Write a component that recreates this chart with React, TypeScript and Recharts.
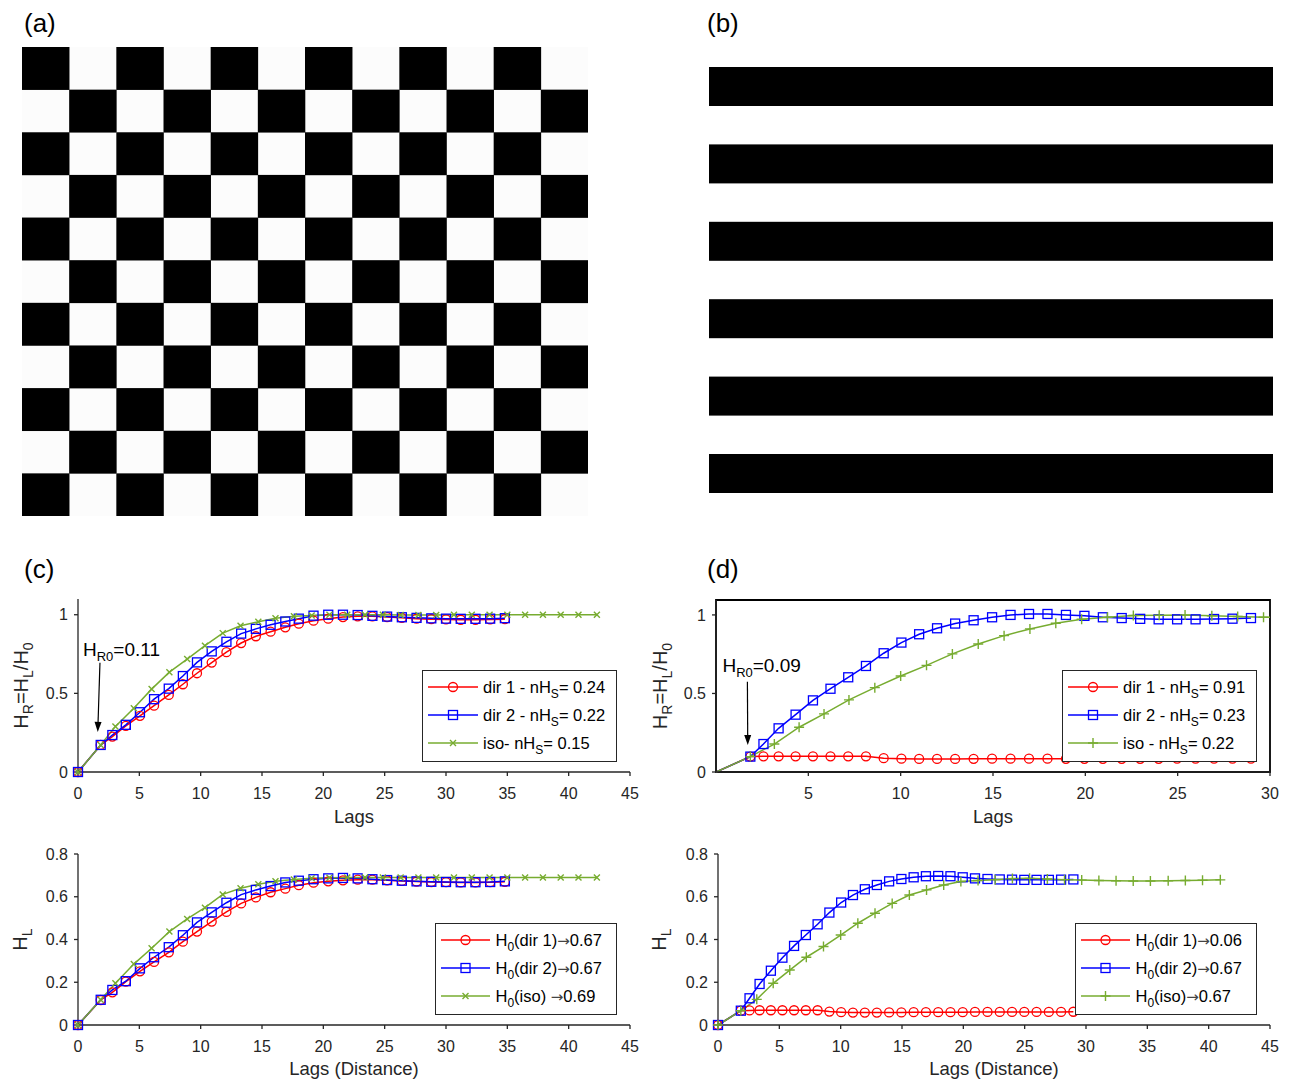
import React from 'react';
import { LineChart, Line, XAxis, YAxis, Legend, ReferenceLine, ReferenceArea } from 'recharts';

const FONT = '"Liberation Sans", Arial, Helvetica, sans-serif';
const INK = '#262626';
const RED = '#ff0000';
const BLUE = '#0000ff';
const GREEN = '#77ac30';

// (c) checkerboard: lags and variogram values
const lagsC = [0, 1.85, 2.8, 3.9, 5.05, 6.2, 7.4, 8.55, 9.7, 10.9, 12.1, 13.3, 14.5, 15.7, 16.9, 18.0, 19.2, 20.4, 21.6, 22.8, 24.0, 25.2, 26.4, 27.6, 28.8, 30.0, 31.2, 32.4, 33.6, 34.8];
const lagsCIso = [0, 1.85, 3.05, 4.55, 6.0, 7.45, 8.9, 10.35, 11.8, 13.25, 14.7, 16.1, 17.6, 19.05, 20.5, 21.95, 23.4, 24.85, 26.3, 27.75, 29.2, 30.65, 32.1, 33.55, 35.0, 36.45, 37.9, 39.35, 40.8, 42.3];
const hrC1 = [0, 0.172, 0.225, 0.293, 0.357, 0.422, 0.49, 0.558, 0.628, 0.696, 0.762, 0.82, 0.863, 0.892, 0.92, 0.943, 0.962, 0.975, 0.985, 0.99, 0.99, 0.985, 0.98, 0.975, 0.972, 0.97, 0.968, 0.968, 0.97, 0.972];
const hrC2 = [0, 0.172, 0.235, 0.3, 0.38, 0.463, 0.53, 0.61, 0.697, 0.767, 0.828, 0.88, 0.91, 0.936, 0.957, 0.975, 0.994, 1.0, 1.0, 0.998, 0.993, 0.988, 0.984, 0.98, 0.977, 0.975, 0.974, 0.974, 0.975, 0.978];
const hrCIso = [0, 0.172, 0.29, 0.405, 0.527, 0.635, 0.718, 0.803, 0.883, 0.93, 0.955, 0.977, 0.99, 0.995, 1.0, 1.0, 1.0, 1.0, 0.999, 0.999, 0.999, 1.0, 1.0, 1.0, 1.0, 1.0, 1.0, 1.0, 1.0, 1.0];
const hlC1 = [0, 0.117, 0.153, 0.203, 0.251, 0.295, 0.34, 0.39, 0.437, 0.484, 0.529, 0.569, 0.597, 0.621, 0.638, 0.654, 0.666, 0.672, 0.677, 0.68, 0.68, 0.677, 0.674, 0.671, 0.669, 0.668, 0.667, 0.667, 0.668, 0.67];
const hlC2 = [0, 0.118, 0.164, 0.205, 0.265, 0.317, 0.364, 0.42, 0.48, 0.527, 0.572, 0.61, 0.632, 0.65, 0.667, 0.675, 0.682, 0.686, 0.688, 0.686, 0.682, 0.678, 0.675, 0.672, 0.67, 0.669, 0.668, 0.668, 0.669, 0.672];
const hlCIso = [0, 0.118, 0.195, 0.285, 0.359, 0.437, 0.496, 0.549, 0.611, 0.64, 0.658, 0.672, 0.681, 0.686, 0.689, 0.69, 0.69, 0.69, 0.69, 0.69, 0.69, 0.69, 0.69, 0.69, 0.69, 0.69, 0.69, 0.69, 0.69, 0.69];

// (d) stripes: lags and variogram values
const lagsD = [0, 1.86, 2.57, 3.39, 4.31, 5.25, 6.2, 7.16, 8.12, 9.08, 10.04, 11.0, 11.97, 12.95, 13.95, 14.95, 15.95, 16.95, 17.95, 18.95, 19.95, 20.95, 21.97, 22.97, 23.97, 24.97, 25.97, 26.97, 27.97, 28.97];
const lagsDIso = [0, 1.86, 3.16, 4.5, 5.85, 7.2, 8.6, 10.0, 11.4, 12.8, 14.2, 15.6, 17.0, 18.4, 19.8, 21.2, 22.6, 24.0, 25.4, 26.85, 28.25, 29.65, 31.05, 32.45, 33.85, 35.25, 36.7, 38.1, 39.5, 40.95];
const hrD1 = [0, 0.098, 0.1, 0.1, 0.1, 0.1, 0.1, 0.1, 0.1, 0.088, 0.085, 0.083, 0.083, 0.083, 0.084, 0.085, 0.085, 0.085, 0.085, 0.084, 0.084, 0.084, 0.084, 0.084, 0.084, 0.085, 0.085, 0.085, 0.085, 0.085];
const hrD2 = [0, 0.098, 0.178, 0.278, 0.365, 0.456, 0.53, 0.603, 0.675, 0.756, 0.824, 0.877, 0.915, 0.945, 0.966, 0.985, 1.0, 1.006, 1.006, 1.0, 0.994, 0.985, 0.98, 0.975, 0.972, 0.972, 0.972, 0.974, 0.976, 0.98];
const hrDIso = [0, 0.098, 0.178, 0.285, 0.37, 0.459, 0.537, 0.611, 0.679, 0.752, 0.815, 0.868, 0.911, 0.947, 0.972, 0.985, 0.996, 0.998, 1.0, 0.994, 0.99, 0.985, 0.985, 0.983, 0.982, 0.98, 0.98, 0.982, 0.984, 0.986];
const hlD1 = [0, 0.067, 0.068, 0.069, 0.069, 0.069, 0.069, 0.069, 0.069, 0.063, 0.06, 0.058, 0.058, 0.058, 0.059, 0.059, 0.06, 0.06, 0.06, 0.06, 0.06, 0.061, 0.061, 0.061, 0.061, 0.061, 0.061, 0.061, 0.061, 0.062];
const hlD2 = [0, 0.067, 0.125, 0.192, 0.254, 0.315, 0.37, 0.421, 0.471, 0.526, 0.573, 0.608, 0.635, 0.655, 0.672, 0.683, 0.691, 0.696, 0.697, 0.696, 0.691, 0.686, 0.683, 0.681, 0.68, 0.679, 0.679, 0.679, 0.68, 0.681];
const hlDIso = [0, 0.067, 0.12, 0.195, 0.257, 0.317, 0.367, 0.421, 0.476, 0.523, 0.569, 0.608, 0.632, 0.655, 0.671, 0.676, 0.68, 0.685, 0.686, 0.683, 0.68, 0.678, 0.676, 0.675, 0.674, 0.674, 0.675, 0.676, 0.677, 0.679];

const ticks45 = [0, 5, 10, 15, 20, 25, 30, 35, 40, 45];
const ticks30 = [5, 10, 15, 20, 25, 30];
const ticksHR = [0, 0.5, 1];
const ticksHL = [0, 0.2, 0.4, 0.6, 0.8];

type Part = [string, boolean];
type Mk = 'circle' | 'square' | 'x' | 'plus';

const drawMarker = (m: Mk, color: string, cx: number, cy: number, key?: string) => {
  if (cx == null || cy == null) return <g key={key} />;
  if (m === 'circle') return <circle key={key} cx={cx} cy={cy} r={4.5} fill="none" stroke={color} strokeWidth={1.3} />;
  if (m === 'square') return <rect key={key} x={cx - 4.5} y={cy - 4.5} width={9} height={9} fill="none" stroke={color} strokeWidth={1.3} />;
  if (m === 'x') return <path key={key} d={`M${cx - 3},${cy - 3}L${cx + 3},${cy + 3}M${cx - 3},${cy + 3}L${cx + 3},${cy - 3}`} stroke={color} strokeWidth={1.4} />;
  return <path key={key} d={`M${cx - 5},${cy}L${cx + 5},${cy}M${cx},${cy - 5}L${cx},${cy + 5}`} stroke={color} strokeWidth={1.4} />;
};

const svgParts = (parts: Part[], small: number, shift: number) => {
  let cur = 0;
  return parts.map(([t, sub], i) => {
    const target = sub ? shift : 0;
    const dy = target - cur;
    cur = target;
    return <tspan key={i} dy={dy} fontSize={sub ? small : undefined}>{t}</tspan>;
  });
};

// the arrow glyph is drawn in DejaVu so it sits at mid height like the original
const withArrow = (t: string) =>
  t.split('\u2192').map((chunk, i) => (
    <React.Fragment key={i}>
      {i > 0 && <span style={{ fontFamily: '"DejaVu Sans", sans-serif', fontSize: 15, color: '#444' }}>{'\u2192'}</span>}
      {chunk}
    </React.Fragment>
  ));

const htmlParts = (parts: Part[]) =>
  parts.map(([t, sub], i) =>
    sub ? (
      <span key={i} style={{ fontSize: 12, position: 'relative', top: 5 }}>{t}</span>
    ) : (
      <span key={i} style={{ whiteSpace: 'pre' }}>{withArrow(t)}</span>
    )
  );

interface Series { lags: number[]; vals: number[]; color: string; mk: Mk; label: Part[] }

interface PanelProps {
  box: [number, number, number, number];
  plot: [number, number, number, number];
  xMax: number;
  xTicks: number[];
  yMax: number;
  yTicks: number[];
  series: Series[];
  legendBox: [number, number, number, number];
  legendLine: [number, number, number];
  yLabel: Part[];
  yLabelX: number;
  xLabel: string;
  xLabelDy: number;
  framed?: boolean;
  arrow?: { p1: [number, number]; p2: [number, number]; text: Part[]; dx: number; dy: number };
}

const LegendBox = ({ series, w, h, line }: { series: Series[]; w: number; h: number; line: [number, number, number] }) => (
  <div style={{ width: w, height: h, border: `1.3px solid ${INK}`, background: '#fff', boxSizing: 'border-box', position: 'relative', fontFamily: FONT }}>
    {series.map((s, i) => (
      <div key={i} style={{ position: 'absolute', left: 0, top: 2 + i * 28, height: 28, display: 'flex', alignItems: 'center', whiteSpace: 'nowrap' }}>
        <svg width={line[1]} height={14} style={{ marginLeft: line[0], overflow: 'visible' }}>
          <line x1={0} y1={7} x2={line[1]} y2={7} stroke={s.color} strokeWidth={1.5} />
          {drawMarker(s.mk, s.color, line[1] / 2, 7)}
        </svg>
        <span style={{ marginLeft: line[2], fontSize: 16.5, color: '#000', lineHeight: 1 }}>{htmlParts(s.label)}</span>
      </div>
    ))}
  </div>
);

const arrowShape = (text: Part[], dx: number, dy: number) => (p: any) => {
  const { x1, y1, x2, y2 } = p;
  const ang = Math.atan2(y2 - y1, x2 - x1);
  const L = 10;
  const W = 3.5;
  const bx = x2 - L * Math.cos(ang);
  const by = y2 - L * Math.sin(ang);
  const px = -Math.sin(ang) * W;
  const py = Math.cos(ang) * W;
  return (
    <g>
      <line x1={x1} y1={y1} x2={bx} y2={by} stroke="#000" strokeWidth={1.2} />
      <polygon points={`${x2},${y2} ${bx + px},${by + py} ${bx - px},${by - py}`} fill="#000" />
      <text x={x1 + dx} y={y1 + dy} fontSize={19} fontFamily={FONT} fill="#000">
        {svgParts(text, 13, 5)}
      </text>
    </g>
  );
};

const Panel = (p: PanelProps) => {
  const [left, top, width, height] = p.box;
  const [pl, pt, pr, pb] = p.plot;
  const [lx, ly, lw, lh] = p.legendBox;
  const cx = (pl + pr) / 2 - left;
  const cy = (pt + pb) / 2 - top;
  const tick = { fill: INK, fontSize: 16, fontFamily: FONT };
  return (
    <div style={{ position: 'absolute', left, top, width, height }}>
      <LineChart width={width} height={height} margin={{ top: pt - top, right: left + width - pr, bottom: 0, left: 0 }}>
        {p.framed && (
          <ReferenceArea x1={0} x2={p.xMax} y1={0} y2={p.yMax} fill="none" stroke="#000" strokeWidth={1.8} strokeOpacity={1} fillOpacity={0} />
        )}
        <XAxis
          type="number"
          dataKey="lag"
          domain={[0, p.xMax]}
          ticks={p.xTicks}
          interval={0}
          allowDataOverflow={!!p.framed}
          height={top + height - pb}
          tickSize={4}
          tickMargin={12}
          tick={tick}
          axisLine={{ stroke: INK, strokeWidth: 1.3 }}
          tickLine={{ stroke: INK, strokeWidth: 1.3 }}
          label={() => (
            <text x={cx} y={pb - top + p.xLabelDy} textAnchor="middle" fontSize={18.5} fontFamily={FONT} fill={INK}>
              {p.xLabel}
            </text>
          )}
        />
        <YAxis
          type="number"
          domain={[0, p.yMax]}
          ticks={p.yTicks}
          interval={0}
          width={pl - left}
          tickSize={4}
          tickMargin={6}
          tick={tick}
          axisLine={{ stroke: INK, strokeWidth: 1.3 }}
          tickLine={{ stroke: INK, strokeWidth: 1.3 }}
          label={() => (
            <text
              x={p.yLabelX - left}
              y={cy}
              transform={`rotate(-90 ${p.yLabelX - left} ${cy})`}
              textAnchor="middle"
              fontSize={20}
              fontFamily={FONT}
              fill={INK}
            >
              {svgParts(p.yLabel, 14, 5)}
            </text>
          )}
        />
        {p.series.map((s, si) => (
          <Line
            key={si}
            data={s.lags.map((lag, i) => ({ lag, v: s.vals[i] }))}
            dataKey="v"
            stroke={s.color}
            strokeWidth={1.5}
            isAnimationActive={false}
            activeDot={false}
            dot={(d: any) => (p.framed && d.index === 0 ? <g key={`d-${d.index}`} /> : drawMarker(s.mk, s.color, d.cx, d.cy, `d-${d.index}`))}
          />
        ))}
        {p.arrow && (
          <ReferenceLine
            segment={[{ x: p.arrow.p1[0], y: p.arrow.p1[1] }, { x: p.arrow.p2[0], y: p.arrow.p2[1] }]}
            shape={arrowShape(p.arrow.text, p.arrow.dx, p.arrow.dy)}
          />
        )}
        <Legend
          layout="vertical"
          align="center"
          verticalAlign="middle"
          wrapperStyle={{ position: 'absolute', left: lx - left, top: ly - top, width: lw, height: lh }}
          content={() => <LegendBox series={p.series} w={lw} h={lh} line={p.legendLine} />}
        />
      </LineChart>
    </div>
  );
};

const CHECK_ROWS = 11;
const CHECK_COLS = 12;
const STRIPES = 6;

const Checkerboard = () => {
  const w = 566;
  const h = 469;
  const cw = w / CHECK_COLS;
  const ch = h / CHECK_ROWS;
  const cells = [];
  for (let r = 0; r < CHECK_ROWS; r++)
    for (let c = 0; c < CHECK_COLS; c++)
      if ((r + c) % 2 === 0) cells.push(<rect key={`${r}-${c}`} x={c * cw} y={r * ch} width={cw + 0.3} height={ch + 0.3} fill="#000" />);
  return (
    <svg style={{ position: 'absolute', left: 22, top: 47 }} width={w} height={h}>
      <rect width={w} height={h} fill="#fcfcfc" />
      {cells}
    </svg>
  );
};

const Stripes = () => {
  const rows = [];
  for (let i = 0; i < STRIPES; i++) rows.push(<rect key={i} x={0} y={20 + i * 77.4} width={564} height={39} fill="#000" />);
  return (
    <svg style={{ position: 'absolute', left: 709, top: 47 }} width={564} height={470}>
      {rows}
    </svg>
  );
};

const PanelTag = ({ x, y, t }: { x: number; y: number; t: string }) => (
  <div style={{ position: 'absolute', left: x, top: y, fontSize: 26, lineHeight: '30px', fontFamily: FONT, color: '#000' }}>{t}</div>
);

const hrLabel: Part[] = [['H', false], ['R', true], ['=H', false], ['L', true], ['/H', false], ['0', true]];
const hlLabel: Part[] = [['H', false], ['L', true]];

export default function App() {
  return (
    <div style={{ position: 'absolute', left: 0, top: 0, width: 1294, height: 1084, background: '#fff', overflow: 'hidden', fontFamily: FONT }}>
      <PanelTag x={24} y={8} t="(a)" />
      <PanelTag x={707} y={8} t="(b)" />
      <PanelTag x={24} y={554} t="(c)" />
      <PanelTag x={707} y={554} t="(d)" />
      <Checkerboard />
      <Stripes />

      <Panel
        box={[0, 590, 650, 250]}
        plot={[78, 599, 630, 772]}
        xMax={45}
        xTicks={ticks45}
        yMax={1.1}
        yTicks={ticksHR}
        yLabel={hrLabel}
        yLabelX={28}
        xLabel="Lags"
        xLabelDy={51}
        legendBox={[422, 670, 195, 92]}
        legendLine={[5, 50, 5]}
        arrow={{ p1: [1.79, 0.694], p2: [1.61, 0.255], text: [['H', false], ['R0', true], ['=0.11', false]], dx: -17, dy: -7 }}
        series={[
          { lags: lagsC, vals: hrC1, color: RED, mk: 'circle', label: [['dir 1 - nH', false], ['S', true], ['= 0.24', false]] },
          { lags: lagsC, vals: hrC2, color: BLUE, mk: 'square', label: [['dir 2 - nH', false], ['S', true], ['= 0.22', false]] },
          { lags: lagsCIso, vals: hrCIso, color: GREEN, mk: 'x', label: [['iso- nH', false], ['S', true], ['= 0.15', false]] },
        ]}
      />
      <Panel
        box={[0, 845, 650, 239]}
        plot={[78, 854, 630, 1025]}
        xMax={45}
        xTicks={ticks45}
        yMax={0.8}
        yTicks={ticksHL}
        yLabel={hlLabel}
        yLabelX={27}
        xLabel="Lags (Distance)"
        xLabelDy={50}
        legendBox={[435, 923, 182, 92]}
        legendLine={[4.5, 49, 6]}
        series={[
          { lags: lagsC, vals: hlC1, color: RED, mk: 'circle', label: [['H', false], ['0', true], ['(dir 1)\u21920.67', false]] },
          { lags: lagsC, vals: hlC2, color: BLUE, mk: 'square', label: [['H', false], ['0', true], ['(dir 2)\u21920.67', false]] },
          { lags: lagsCIso, vals: hlCIso, color: GREEN, mk: 'x', label: [['H', false], ['0', true], ['(iso) \u21920.69', false]] },
        ]}
      />
      <Panel
        box={[640, 590, 654, 250]}
        plot={[716, 600, 1270, 772]}
        xMax={30}
        xTicks={ticks30}
        yMax={1.095}
        yTicks={ticksHR}
        yLabel={hrLabel}
        yLabelX={667}
        xLabel="Lags"
        xLabelDy={51}
        framed
        legendBox={[1062, 670, 195, 92]}
        legendLine={[5, 50, 5]}
        arrow={{ p1: [1.7, 0.575], p2: [1.72, 0.172], text: [['H', false], ['R0', true], ['=0.09', false]], dx: -25, dy: -10 }}
        series={[
          { lags: lagsD, vals: hrD1, color: RED, mk: 'circle', label: [['dir 1 - nH', false], ['S', true], ['= 0.91', false]] },
          { lags: lagsD, vals: hrD2, color: BLUE, mk: 'square', label: [['dir 2 - nH', false], ['S', true], ['= 0.23', false]] },
          { lags: lagsDIso, vals: hrDIso, color: GREEN, mk: 'plus', label: [['iso - nH', false], ['S', true], ['= 0.22', false]] },
        ]}
      />
      <Panel
        box={[640, 845, 654, 239]}
        plot={[718, 854, 1270, 1025]}
        xMax={45}
        xTicks={ticks45}
        yMax={0.8}
        yTicks={ticksHL}
        yLabel={hlLabel}
        yLabelX={666}
        xLabel="Lags (Distance)"
        xLabelDy={50}
        legendBox={[1075, 923, 182, 92]}
        legendLine={[4.5, 49, 6]}
        series={[
          { lags: lagsD, vals: hlD1, color: RED, mk: 'circle', label: [['H', false], ['0', true], ['(dir 1)\u21920.06', false]] },
          { lags: lagsD, vals: hlD2, color: BLUE, mk: 'square', label: [['H', false], ['0', true], ['(dir 2)\u21920.67', false]] },
          { lags: lagsDIso, vals: hlDIso, color: GREEN, mk: 'plus', label: [['H', false], ['0', true], ['(iso)\u21920.67', false]] },
        ]}
      />
    </div>
  );
}
